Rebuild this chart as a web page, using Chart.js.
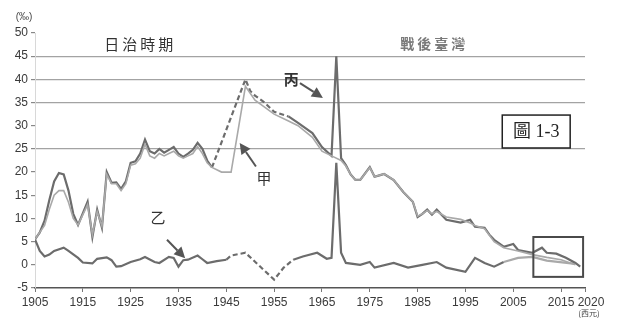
<!DOCTYPE html>
<html>
<head>
<meta charset="utf-8">
<script src="https://cdn.jsdelivr.net/npm/chart.js@4"></script>
<style>
  html, body { margin: 0; background: #fff; }
  #wrap { width: 622px; height: 318px; }
</style>
</head>
<body>
<div id="wrap"><canvas id="c" width="622" height="318"></canvas></div>
<script>
// 人口增加率 (‰)，數值由圖上估讀
const totalYears = [1905, 1906, 1907, 1908, 1909, 1910, 1911, 1912, 1913, 1914, 1916, 1917, 1918, 1919, 1920, 1921, 1922, 1923, 1924, 1925, 1926, 1927, 1928, 1929, 1930, 1931, 1932, 1933, 1934, 1935, 1936, 1937, 1938, 1939, 1940, 1941, 1942, 1949, 1950, 1951, 1953, 1955, 1958, 1960, 1963, 1965, 1967, 1968, 1969, 1970, 1971, 1972, 1973, 1975, 1976, 1977, 1978, 1980, 1982, 1984, 1985, 1986, 1987, 1988, 1989, 1991, 1994, 1996, 1997, 1999, 2000, 2001, 2003, 2005, 2006, 2009, 2011, 2012, 2014, 2016, 2018, 2019];
const totalRate = [5.5, 7, 9.5, 14, 18, 19.8, 19.5, 16, 11, 8.6, 13.6, 6, 11.9, 8, 20, 17.7, 17.8, 16.4, 18, 22, 22.3, 24, 27, 24.5, 24, 25, 24.2, 24.8, 25.4, 24, 23.3, 24, 24.8, 26.3, 25, 22.5, 21, 40, 37.5, 36.5, 35, 33, 32, 30.6, 28.4, 25.4, 23.5, 45, 23, 21.5, 19.5, 18.3, 18.3, 21.1, 19, 19.3, 19.6, 18.3, 15.7, 13.6, 10.3, 11, 11.9, 10.8, 11.9, 9.7, 9.1, 9.7, 8.2, 8, 6.5, 5.4, 3.9, 4.5, 3.2, 2.6, 3.7, 2.6, 2.4, 1.5, 0.4, -0.4];

const naturalYears = [1905, 1906, 1907, 1908, 1909, 1910, 1911, 1912, 1913, 1914, 1916, 1917, 1918, 1919, 1920, 1921, 1922, 1923, 1924, 1925, 1926, 1927, 1928, 1929, 1930, 1931, 1932, 1933, 1934, 1935, 1936, 1937, 1938, 1939, 1940, 1941, 1942, 1944, 1946, 1949, 1950, 1951, 1953, 1955, 1958, 1960, 1963, 1965, 1967, 1969, 1970, 1971, 1972, 1973, 1975, 1976, 1977, 1978, 1980, 1982, 1984, 1985, 1986, 1987, 1988, 1989, 1991, 1994, 1996, 1997, 1999, 2001, 2003, 2006, 2009, 2012, 2015, 2018];
const naturalRate = [5.5, 7, 8.5, 12, 15, 16, 16, 13.5, 10, 8.6, 13, 6.5, 11.5, 8.3, 19.5, 17.5, 17.5, 16, 17.5, 21.5, 21.8, 23, 26, 23.5, 23, 24, 23.5, 24, 24.5, 23.5, 23, 23.5, 24, 25.5, 24, 22, 21, 20, 20, 38.5, 37, 35.5, 34, 32.5, 31, 30, 27.5, 24.5, 23.5, 22.5, 21.3, 19.5, 18.3, 18.3, 21, 19, 19.3, 19.6, 18.3, 15.7, 13.6, 10.5, 11, 11.7, 11, 11.5, 10.3, 9.8, 9, 8.5, 7.8, 5, 3.7, 3, 2.2, 1.6, 1.1, 0];

const socialYears = [1905, 1906, 1907, 1908, 1909, 1911, 1912, 1914, 1915, 1917, 1918, 1920, 1921, 1922, 1923, 1925, 1927, 1928, 1930, 1931, 1933, 1934, 1935, 1936, 1937, 1939, 1940, 1941, 1943, 1945, 1946, 1949, 1955, 1957, 1959, 1961, 1964, 1966, 1967, 1968, 1969, 1970, 1973, 1975, 1976, 1980, 1983, 1986, 1989, 1991, 1995, 1997, 1999, 2001, 2003, 2006, 2009, 2012, 2018];
const socialRate = [5.5, 3, 1.8, 2.2, 3, 3.7, 3, 1.5, 0.5, 0.3, 1.3, 1.6, 1, -0.4, -0.3, 0.6, 1.2, 1.7, 0.6, 0.4, 1.7, 1.5, -0.4, 1, 1.1, 2, 1.2, 0.4, 0.8, 1.1, 2, 2.6, -3.2, -0.6, 1.1, 1.8, 2.6, 1.3, 1.5, 22, 2.6, 0.4, 0, 0.6, -0.6, 0.4, -0.6, 0, 0.6, -0.6, -1.5, 1.5, 0.4, -0.4, 0.6, 1.5, 1.7, 0.9, 0.2];

const xTickYears = [1905, 1915, 1925, 1935, 1945, 1955, 1965, 1975, 1985, 1995, 2005, 2015, 2020];
const gridValues = [45, 40, 35, 25];

// 資料缺漏年份以虛線表示
const totalGap = [1942, 1958];
const socialGap = [1945, 1959];

const DARK = "#6c6c6c";
const LIGHT = "#a9a9a9";

function toPoints(years, vals) { return years.map((y, i) => ({ x: y, y: vals[i] })); }
const inGap = (c, g) => c.p0.parsed.x >= g[0] && c.p1.parsed.x <= g[1];

// 文字與箭頭，座標用資料單位
const labels = [
  { text: "日治時期", x: 1927, y: 47.6, font: '15px "Noto Sans CJK TC"', color: "#333", spacing: "3px" },
  { text: "戰後臺灣", x: 1988.5, y: 47.8, font: 'bold 14px "Noto Sans CJK TC"', color: "#7a7a7a", spacing: "3px" },
  { text: "丙", x: 1958.6, y: 40.1, font: 'bold 15px "Noto Sans CJK TC"', color: "#333", spacing: "0px" },
  { text: "甲", x: 1952.9, y: 18.6, font: '15px "Noto Sans CJK TC"', color: "#333", spacing: "0px" },
  { text: "乙", x: 1930.7, y: 10.3, font: '15px "Noto Sans CJK TC"', color: "#333", spacing: "0px" },
];
const arrows = [
  { from: [1960.4, 39.2], to: [1965.2, 36.0] },
  { from: [1951.2, 21.2], to: [1947.8, 26.3] },
  { from: [1932.6, 5.4], to: [1936.4, 1.4] },
];
const figBox = { x0: 2002.7, y0: 32.3, x1: 2016.9, y1: 25.2, text: "圖 1-3" };
const markBox = { x0: 2009.2, y0: 6.0, x1: 2019.6, y1: -2.6 };

const notesPlugin = {
  id: "notes",
  afterDatasetsDraw(chart) {
    const { ctx, scales: { x, y }, chartArea } = chart;
    ctx.save();
    ctx.textAlign = "center";
    ctx.textBaseline = "middle";
    for (const l of labels) {
      ctx.font = l.font;
      ctx.fillStyle = l.color;
      ctx.letterSpacing = l.spacing;
      ctx.fillText(l.text, x.getPixelForValue(l.x), y.getPixelForValue(l.y));
    }
    ctx.letterSpacing = "0px";

    ctx.strokeStyle = "#555";
    ctx.fillStyle = "#555";
    ctx.lineWidth = 2;
    for (const a of arrows) {
      const x0 = x.getPixelForValue(a.from[0]), y0 = y.getPixelForValue(a.from[1]);
      const x1 = x.getPixelForValue(a.to[0]), y1 = y.getPixelForValue(a.to[1]);
      const ang = Math.atan2(y1 - y0, x1 - x0);
      const hl = 11, hw = 5.5;
      const bx = x1 - hl * Math.cos(ang), by = y1 - hl * Math.sin(ang);
      ctx.beginPath(); ctx.moveTo(x0, y0); ctx.lineTo(bx, by); ctx.stroke();
      ctx.beginPath();
      ctx.moveTo(x1, y1);
      ctx.lineTo(bx + hw * Math.sin(ang), by - hw * Math.cos(ang));
      ctx.lineTo(bx - hw * Math.sin(ang), by + hw * Math.cos(ang));
      ctx.closePath(); ctx.fill();
    }

    // 圖號框
    let bx0 = x.getPixelForValue(figBox.x0), by0 = y.getPixelForValue(figBox.y0);
    let bx1 = x.getPixelForValue(figBox.x1), by1 = y.getPixelForValue(figBox.y1);
    ctx.fillStyle = "#fff";
    ctx.fillRect(bx0, by0, bx1 - bx0, by1 - by0);
    ctx.strokeStyle = "#222";
    ctx.lineWidth = 1.5;
    ctx.strokeRect(bx0, by0, bx1 - bx0, by1 - by0);
    ctx.fillStyle = "#222";
    ctx.font = '18px "Liberation Serif", "Noto Sans CJK TC"';
    ctx.fillText(figBox.text, (bx0 + bx1) / 2, (by0 + by1) / 2 + 1);

    // 近年資料框
    bx0 = x.getPixelForValue(markBox.x0); by0 = y.getPixelForValue(markBox.y0);
    bx1 = x.getPixelForValue(markBox.x1); by1 = y.getPixelForValue(markBox.y1);
    ctx.strokeStyle = "#4a4a4a";
    ctx.lineWidth = 2;
    ctx.strokeRect(bx0, by0, bx1 - bx0, by1 - by0);

    // 單位
    ctx.fillStyle = "#444";
    ctx.font = '10px "Liberation Sans"';
    ctx.fillText("(‰)", chartArea.left - 11, y.getPixelForValue(50) - 16);
    ctx.font = '8px "Noto Sans CJK TC"';
    ctx.fillText("(西元)", x.getPixelForValue(2020) + 4, chart.height - 5);
    ctx.restore();
  },
};

new Chart(document.getElementById("c"), {
  type: "line",
  data: {
    datasets: [
      { label: "自然增加率", data: toPoints(naturalYears, naturalRate), borderColor: LIGHT, borderWidth: 1.6, pointRadius: 0, tension: 0 },
      { label: "總增加率", data: toPoints(totalYears, totalRate), borderColor: DARK, borderWidth: 2.2, pointRadius: 0, tension: 0,
        segment: { borderDash: c => inGap(c, totalGap) ? [5, 3] : undefined } },
      { label: "社會增加率", data: toPoints(socialYears, socialRate), borderColor: DARK, borderWidth: 2.2, pointRadius: 0, tension: 0,
        segment: {
          borderDash: c => inGap(c, socialGap) ? [5, 3] : undefined,
          borderColor: c => c.p0.parsed.x >= 2002 ? LIGHT : undefined,
        } },
    ],
  },
  options: {
    responsive: false,
    animation: false,
    layout: { padding: { left: 0, right: 37, top: 33, bottom: 0 } },
    plugins: { legend: { display: false }, tooltip: { enabled: false } },
    scales: {
      x: {
        type: "linear", min: 1905, max: 2020,
        afterBuildTicks: s => { s.ticks = xTickYears.map(v => ({ value: v })); },
        afterFit: s => { s.height = 30; },
        // 2015 與 2020 太擠，2020 往右挪一點
        ticks: { color: "#3a3a3a", font: { size: 12, family: "Liberation Sans" }, maxRotation: 0, autoSkip: false, padding: 3,
                 callback: v => v === 2020 ? "\u2002\u2002" + v : String(v) },
        grid: { drawOnChartArea: false, tickLength: 4, color: "#777" },
        border: { color: "#555", width: 1.5 },
      },
      y: {
        min: -5, max: 50,
        afterFit: s => { s.width = 35; },
        ticks: { stepSize: 5, color: "#3a3a3a", font: { size: 12, family: "Liberation Sans" }, padding: 3 },
        grid: { color: c => gridValues.includes(c.tick.value) ? "#a3a3a3" : "transparent", tickColor: "#888", tickLength: 4, lineWidth: 1.2 },
        border: { color: "#d8d8d8" },
      },
    },
  },
  plugins: [notesPlugin],
});
</script>
</body>
</html>
